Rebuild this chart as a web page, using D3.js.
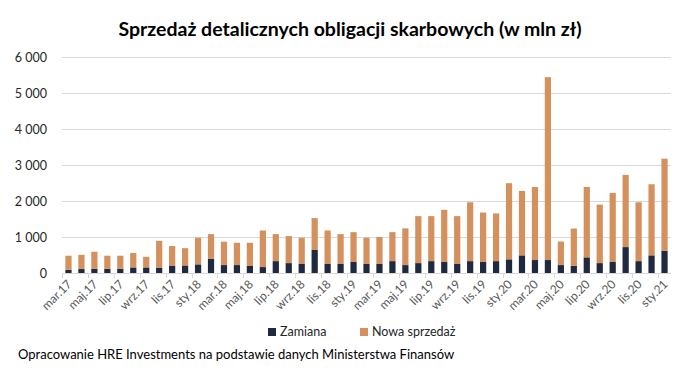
<!DOCTYPE html>
<html lang="pl">
  <head>
    <meta charset="UTF-8" />
    <title>Sprzedaż detalicznych obligacji skarbowych</title>
    <style>
      body {
        margin: 0;
        background: #fff;
      }
      svg text {
        font-family: Lato, "Open Sans", sans-serif;
      }
      .grid line {
        stroke: #d9d9d9;
      }
      .axis text {
        fill: #595959;
        font-size: 12px;
      }
    </style>
  </head>
  <body>
    <div id="chart"></div>
    <script src="https://cdn.jsdelivr.net/npm/d3@7"></script>
    <script>
      // kolejne miesiace od mar.17 do sty.21
      let months = ["sty", "lut", "mar", "kwi", "maj", "cze", "lip", "sie", "wrz", "paź", "lis", "gru"];
      let categories = [];
      for (let y = 17, m = 2; categories.length < 47; m++) {
        if (m === 12) { m = 0; y++; }
        categories.push(months[m] + "." + y);
      }

      // wartosci w mln zl
      let zamiana = [
        90, 110, 120, 120, 120, 155, 155, 150, 195, 210,
        240, 400, 220, 220, 195, 165, 330, 275, 250, 640,
        250, 250, 305, 250, 250, 330, 220, 275, 330, 305,
        250, 330, 305, 330, 380, 490, 360, 360, 220, 200,
        435, 275, 305, 720, 330, 490, 620
      ];
      let razem = [
        480, 505, 590, 480, 480, 555, 450, 895, 750, 690,
        980, 1080, 870, 840, 840, 1180, 1080, 1025, 980, 1525,
        1180, 1080, 1135, 980, 1000, 1135, 1240, 1580, 1580, 1755,
        1580, 1965, 1680, 1655, 2495, 2280, 2390, 5440, 875, 1235,
        2390, 1900, 2225, 2725, 1965, 2465, 3175
      ];
      let nowaSprzedaz = razem.map((v, i) => v - zamiana[i]);

      let yTicks = [0, 1000, 2000, 3000, 4000, 5000, 6000];
      let series = [
        { name: "Zamiana", values: zamiana, color: "#1f2940" },
        { name: "Nowa sprzedaż", values: nowaSprzedaz, color: "#d4915e" }
      ];

      let width = 700,
        height = 369;
      let margin = { top: 57, right: 29, bottom: 96, left: 62 };

      let svg = d3
        .select("#chart")
        .append("svg")
        .attr("width", width)
        .attr("height", height);

      let x = d3
        .scaleBand()
        .domain(categories)
        .range([margin.left, width - margin.right])
        .paddingInner(0.52)
        .paddingOuter(0.26);

      let y = d3
        .scaleLinear()
        .domain([0, 6000])
        .range([height - margin.bottom, margin.top]);

      let fmt = (v) => d3.format(",")(v).replace(/,/g, " ");

      // siatka
      svg
        .append("g")
        .attr("class", "grid")
        .selectAll("line")
        .data(yTicks.slice(1))
        .join("line")
        .attr("x1", margin.left)
        .attr("x2", width - margin.right)
        .attr("y1", (d) => Math.round(y(d)) + 0.5)
        .attr("y2", (d) => Math.round(y(d)) + 0.5);

      // os Y
      let yAxis = svg
        .append("g")
        .attr("class", "axis")
        .attr("transform", `translate(${margin.left - 12},0)`)
        .call(d3.axisLeft(y).tickValues(yTicks).tickSize(0).tickFormat(fmt));
      yAxis.select(".domain").remove();
      yAxis
        .selectAll("text")
        .style("fill", "#262626")
        .style("font-size", "12.5px")
        .attr("dy", "0.35em");

      // slupki
      let stacked = d3
        .stack()
        .keys(d3.range(series.length))
        .value((d, k) => series[k].values[d])(d3.range(categories.length));

      svg
        .append("g")
        .selectAll("g")
        .data(stacked)
        .join("g")
        .attr("fill", (d, k) => series[k].color)
        .selectAll("rect")
        .data((d) => d)
        .join("rect")
        .attr("x", (d) => x(categories[d.data]))
        .attr("width", x.bandwidth())
        .attr("y", (d) => y(d[1]))
        .attr("height", (d) => y(d[0]) - y(d[1]));

      // os X
      let step = x.step();
      let base = y(0);
      let xAxis = svg.append("g").attr("class", "axis");
      xAxis
        .append("line")
        .attr("x1", margin.left)
        .attr("x2", width - margin.right)
        .attr("y1", Math.round(base) + 0.5)
        .attr("y2", Math.round(base) + 0.5)
        .attr("stroke", "#d9d9d9");
      xAxis
        .selectAll(".tick")
        .data(d3.range(0, categories.length + 1, 2))
        .join("line")
        .attr("x1", (i) => Math.round(margin.left + i * step) + 0.5)
        .attr("x2", (i) => Math.round(margin.left + i * step) + 0.5)
        .attr("y1", base)
        .attr("y2", base + 5)
        .attr("stroke", "#d9d9d9");
      xAxis
        .selectAll("text")
        .data(categories.filter((c, i) => i % 2 === 0))
        .join("text")
        .attr("text-anchor", "end")
        .attr("fill", "#404040")
        .attr(
          "transform",
          (d) => `translate(${x(d) + x.bandwidth() / 2 + 4},${base + 12}) rotate(-45)`
        )
        .text((d) => d);

      // tytul
      svg
        .append("text")
        .attr("x", 350)
        .attr("y", 36)
        .attr("text-anchor", "middle")
        .attr("font-size", 19.5)
        .attr("font-weight", "bold")
        .attr("fill", "#000")
        .text("Sprzedaż detalicznych obligacji skarbowych (w mln zł)");

      // legenda
      let legend = svg
        .append("g")
        .selectAll("g")
        .data(series)
        .join("g")
        .attr("transform", (d, i) => `translate(${[268, 360][i]},328)`);
      legend
        .append("rect")
        .attr("width", 8)
        .attr("height", 8)
        .attr("fill", (d) => d.color);
      legend
        .append("text")
        .attr("x", 12)
        .attr("y", 8)
        .attr("font-size", 12.5)
        .attr("fill", "#262626")
        .text((d) => d.name);

      // zrodlo
      svg
        .append("text")
        .attr("x", 18)
        .attr("y", 359)
        .attr("font-size", 13)
        .attr("fill", "#000")
        .text("Opracowanie HRE Investments na podstawie danych Ministerstwa Finansów");
    </script>
  </body>
</html>
